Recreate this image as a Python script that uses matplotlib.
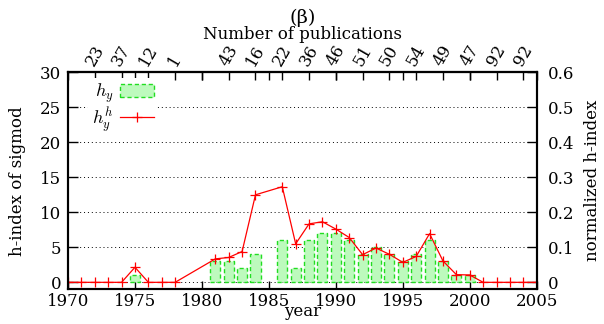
import matplotlib
matplotlib.use("Agg")
import matplotlib.pyplot as plt
import numpy as np

plt.rcParams['font.family'] = ['DejaVu Serif']
plt.rcParams['mathtext.fontset'] = 'cm'
plt.rcParams['font.size'] = 12

# h-index per year (bars, left axis)
bar_years = list(range(1970, 2005))
h_y = [0, 0, 0, 0, 0, 1, 0, 0, 0, 0,
       0, 3, 3, 2, 4, 0, 6, 2, 6, 7,
       7, 6, 4, 5, 4, 3, 4, 6, 3, 1,
       1, 0, 0, 0, 0]

# normalized h-index (line, right axis); 1979, 1980, 1985 have no point
line_years = [1970, 1971, 1972, 1973, 1974, 1975, 1976, 1977, 1978,
              1981, 1982, 1983, 1984, 1986, 1987, 1988, 1989, 1990,
              1991, 1992, 1993, 1994, 1995, 1996, 1997, 1998, 1999,
              2000, 2001, 2002, 2003, 2004, 2005]
h_norm = [0, 0, 0, 0, 0, 0.043, 0, 0, 0,
          0.067, 0.071, 0.088, 0.25, 0.273, 0.11, 0.167, 0.173, 0.152,
          0.128, 0.079, 0.098, 0.08, 0.057, 0.074, 0.139, 0.061, 0.022,
          0.021, 0, 0, 0, 0, 0]

# number of publications (top axis, every two years)
pub_years = list(range(1972, 2005, 2))
pub_labels = ['23', '37', '12', '1', '', '43', '16', '22', '36', '46',
              '51', '50', '54', '49', '47', '92', '92']

fig = plt.figure(figsize=(6.04, 3.24), dpi=100)
ax = fig.add_axes([0.1126, 0.107, 0.776, 0.670])

grid_style = dict(color='black', linestyle=(0, (1, 3)), linewidth=0.7)
ax.set_axisbelow(True)
ax.yaxis.grid(True, **grid_style)

# zero-height years show no bar
yrs = np.array(bar_years)
hv = np.array(h_y)
nz = hv > 0
bars = ax.bar(yrs[nz], hv[nz], width=0.75, facecolor='#bdfabd',
              edgecolor='#22dd22', linestyle=(0, (3, 2)), linewidth=1.0,
              zorder=2)

ax.set_xlim(1970, 2005)
ax.set_ylim(-1, 30)
ax.set_xticks(range(1970, 2006, 5))
ax.set_yticks(range(0, 31, 5))
ax.tick_params(axis='x', direction='in', length=5.5, width=1, top=True, pad=2.5)
ax.tick_params(axis='y', direction='in', length=7.5, width=1, pad=5)
ax.set_xlabel('year', va='center')
ax.xaxis.set_label_coords(0.5, -0.1)
ax.set_ylabel('h-index of sigmod', va='center')
ax.yaxis.set_label_coords(-0.108, 0.5)

ax2 = ax.twinx()
line, = ax2.plot(line_years, h_norm, color='red', linewidth=0.9,
                 marker='+', markersize=7.5, markeredgewidth=0.9)
ax2.set_ylim(-0.02, 0.6)
ax2.set_yticks([0, 0.1, 0.2, 0.3, 0.4, 0.5, 0.6])
ax2.set_yticklabels(['0', '0.1', '0.2', '0.3', '0.4', '0.5', '0.6'])
ax2.tick_params(axis='y', direction='in', length=7.5, width=1, pad=8)
ax2.set_ylabel('normalized h-index', va='center', rotation=90)
ax2.yaxis.set_label_coords(1.118, 0.5)

top = ax.secondary_xaxis('top')
top.set_xticks(pub_years)
top.set_xticklabels(pub_labels, rotation=60, ha='center', va='bottom')
top.tick_params(axis='x', direction='in', length=5.5, width=1, pad=2)

for a in (ax, ax2):
    for s in a.spines.values():
        s.set_linewidth(1.5)
for s in top.spines.values():
    s.set_linewidth(1.5)

ax.text(0.5, 1.25, '(β)', transform=ax.transAxes, ha='center', va='center',
        fontsize=14)
ax.text(0.5, 1.172, 'Number of publications', transform=ax.transAxes,
        ha='center', va='center')

leg = ax2.legend([bars, line], [r'$h_y$', r'$h_y^h$'], loc='upper left',
                 bbox_to_anchor=(0.035, 0.99), markerfirst=False,
                 frameon=True, fancybox=False, edgecolor='none',
                 facecolor='white', framealpha=1, borderpad=0.2,
                 borderaxespad=0.2, handlelength=1.9, handleheight=0.65,
                 handletextpad=0.35, labelspacing=0.0, fontsize=13)

fig.savefig('out.png', dpi=100)
